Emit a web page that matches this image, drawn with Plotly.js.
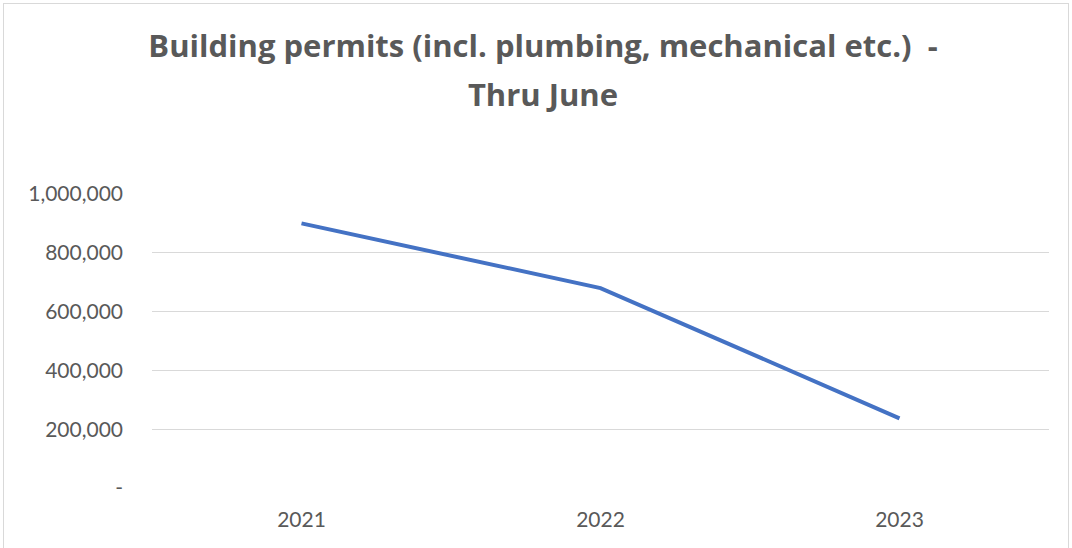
<!DOCTYPE html>
<html>
<head>
<meta charset="utf-8">
<script src="https://cdn.plot.ly/plotly-3.0.1.min.js"></script>
<style>
html,body{margin:0;padding:0;background:#fff;}
#wrap{position:relative;width:1072px;height:548px;}
#chart{width:1072px;height:548px;}
#frame{position:absolute;left:3px;top:3px;width:1066px;height:545px;border:1px solid #d9d9d9;border-bottom:none;box-sizing:border-box;pointer-events:none;}
</style>
</head>
<body>
<div id="wrap"><div id="chart"></div><div id="frame"></div></div>
<script>
const years = ['2021', '2022', '2023'];
const permits = [900000, 680000, 237000];
const yTickVals = [0, 200000, 400000, 600000, 800000, 1000000];
const yTickText = ['-', '200,000', '400,000', '600,000', '800,000', '1,000,000'];

const trace = {
  x: years,
  y: permits,
  type: 'scatter',
  mode: 'lines',
  line: {color: '#4472C4', width: 4},
  hoverinfo: 'x+y'
};

const tickFont = {family: 'Lato, "Open Sans", sans-serif', size: 21, color: '#595959'};

const layout = {
  width: 1072,
  height: 548,
  margin: {l: 152, r: 23, t: 194, b: 60},
  paper_bgcolor: '#ffffff',
  plot_bgcolor: '#ffffff',
  showlegend: false,
  title: {
    text: '<b><span style="font-size:31px">Building permits (incl. plumbing, mechanical etc.)  -</span><br><span style="font-size:31px">Thru June</span></b>',
    font: {family: '"Open Sans", Lato, sans-serif', size: 38, color: '#595959'},
    xref: 'container',
    x: 0.5065,
    xanchor: 'center',
    yref: 'container',
    y: 0.896,
    yanchor: 'top'
  },
  xaxis: {
    type: 'category',
    range: [-0.5, 2.5],
    showgrid: false,
    zeroline: false,
    showline: false,
    ticks: '',
    ticklabelstandoff: 17,
    tickfont: tickFont,
    fixedrange: true
  },
  yaxis: {
    range: [0, 1000000],
    tickvals: yTickVals,
    ticktext: yTickText,
    showgrid: true,
    gridcolor: '#d9d9d9',
    gridwidth: 1,
    zeroline: false,
    showline: false,
    ticks: '',
    ticklabelstandoff: 28,
    tickfont: tickFont,
    fixedrange: true
  }
};

Plotly.newPlot('chart', [trace], layout, {displayModeBar: false, staticPlot: true});
</script>
</body>
</html>
